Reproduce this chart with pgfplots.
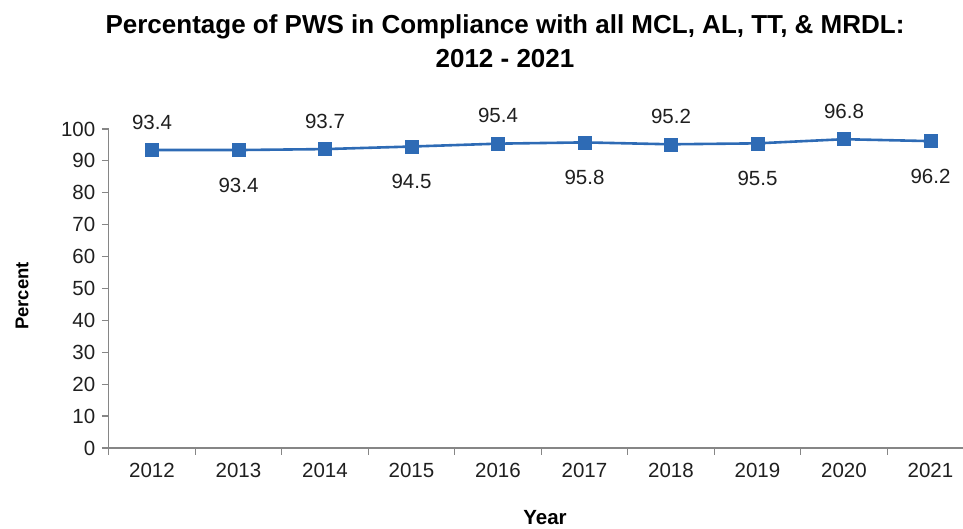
\documentclass[border=0pt]{standalone}
\usepackage{pgfplots}
\pgfplotsset{compat=1.18}
\usepackage{fontspec}
\setmainfont{Liberation Sans}
\definecolor{lineblue}{HTML}{2E6BB5}
\definecolor{axisgray}{HTML}{868686}
\begin{document}
\begin{tikzpicture}[x=1pt,y=1pt]
\useasboundingbox (0,0) rectangle (963,529);
\begin{axis}[
  at={(108.75pt,81pt)}, anchor=south west,
  scale only axis, width=854.25pt, height=319pt,
  xmin=-0.5, xmax=9.376, ymin=0, ymax=100,
  axis x line*=bottom, axis y line*=left,
  axis line style={axisgray, line width=1.2pt, -},
  xtick={0,...,9},
  xticklabels={2012,2013,2014,2015,2016,2017,2018,2019,2020,2021},
  major x tick style={draw=none},
  minor xtick={-0.5,0.5,...,8.5},
  minor x tick style={axisgray, line width=1.2pt},
  minor tick length=7pt,
  ytick={0,10,...,100},
  ytick style={axisgray, line width=1.2pt},
  major tick length=7pt,
  tick align=outside,
  tick label style={font=\fontsize{20.5}{22}\selectfont, text=black!88},
  /pgf/number format/assume math mode=true,
  xticklabel style={yshift=-5pt},
  yticklabel style={xshift=-3pt},
  clip=false,
]
\addplot[lineblue, line width=2.6pt, mark=square*, mark size=6.5pt, mark options={fill=lineblue, draw=lineblue, line width=0.5pt}]
  coordinates {(0,93.4) (1,93.4) (2,93.7) (3,94.5) (4,95.4) (5,95.8) (6,95.2) (7,95.5) (8,96.8) (9,96.2)};
\addplot[draw=none, mark=none, nodes near coords, point meta=explicit symbolic,
  every node near coord/.style={font=\fontsize{20.5}{22}\selectfont, text=black!88, anchor=center, yshift=28pt}]
  coordinates {(0,93.4)[93.4] (2,93.7)[93.7] (4,95.4)[95.4] (6,95.2)[95.2] (8,96.8)[96.8]};
\addplot[draw=none, mark=none, nodes near coords, point meta=explicit symbolic,
  every node near coord/.style={font=\fontsize{20.5}{22}\selectfont, text=black!88, anchor=center, yshift=-35pt}]
  coordinates {(1,93.4)[93.4] (3,94.5)[94.5] (5,95.8)[95.8] (7,95.5)[95.5] (9,96.2)[96.2]};
\end{axis}
\node[font=\bfseries\fontsize{26}{34}\selectfont, align=center, anchor=center] at (505,488) {Percentage of PWS in Compliance with all MCL, AL, TT, \& MRDL:\\2012 - 2021};
\node[font=\bfseries\fontsize{18.5}{20}\selectfont, rotate=90, anchor=center] at (22,233) {Percent};
\node[font=\bfseries\fontsize{20.5}{22}\selectfont, anchor=center] at (545,11) {Year};
\end{tikzpicture}
\end{document}
